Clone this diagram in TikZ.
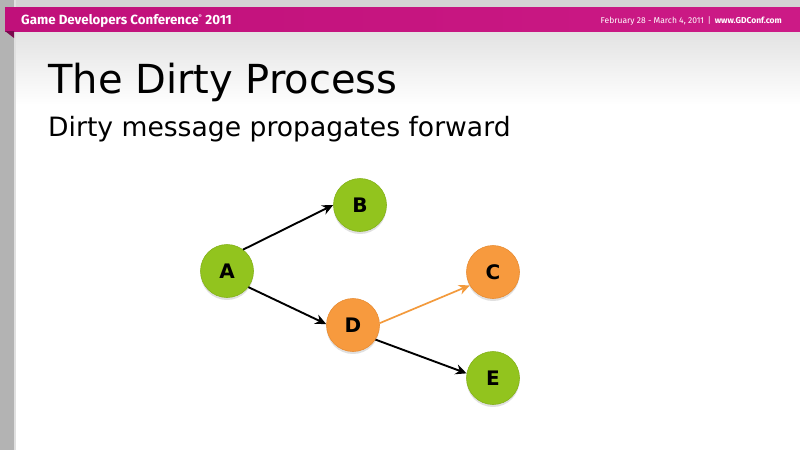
\documentclass[tikz,border=0pt]{standalone}
\usepackage{fontspec}
\setmainfont{DejaVu Sans}
\newfontfamily\gdcfont{Fira Sans}
\usetikzlibrary{arrows.meta}
\definecolor{gdcmag}{HTML}{C0107A}
\definecolor{gdcmagl}{HTML}{CC1A86}
\definecolor{gdcfold}{HTML}{7A0A4E}
\definecolor{nodegreen}{HTML}{92C41E}
\definecolor{nodegreenb}{HTML}{84B21A}
\definecolor{nodeorange}{HTML}{F79A3E}
\definecolor{nodeorangeb}{HTML}{E88C32}
\definecolor{arroworange}{HTML}{F39A3C}
\definecolor{stripgray}{HTML}{B3B3B3}
\tikzset{
  gnode/.style={circle, minimum size=53pt, inner sep=0pt, fill=nodegreen, draw=nodegreenb, line width=0.6pt, font=\bfseries\fontsize{20}{20}\selectfont},
  onode/.style={gnode, fill=nodeorange, draw=nodeorangeb},
  shadowc/.style={circle, minimum size=53pt, inner sep=0pt, fill=black, opacity=0.12},
  edge/.style={line width=1.9pt, black, -{Stealth[length=11pt,width=10pt]}},
  oedge/.style={edge, arroworange, line width=1.7pt},
}
\begin{document}
\begin{tikzpicture}[x=1pt,y=-1pt]
\useasboundingbox (0,0) rectangle (800,450);
% background
\fill[white] (0,0) rectangle (800,450);
\shade[top color=black!16, bottom color=white] (0,0) rectangle (800,105);
\fill[black!17] (0,0) rectangle (800,7);
% left strip
\fill[stripgray] (0,0) rectangle (14,450);
\fill[black!12] (14,0) rectangle (15.5,450);
% header band
\shade[left color=gdcmag, right color=gdcmagl] (5,7) rectangle (800,31);
\fill[gdcfold] (5,31) -- (14,31) -- (14,38) -- cycle;
\node[anchor=base west, inner sep=0pt, text=white, font=\gdcfont\bfseries\fontsize{13.3}{13.3}\selectfont] (hdrl) at (21,24) {Game Developers Conference\textsuperscript{\tiny\textregistered} 2011};
\node[anchor=base east, inner sep=0pt, text=white, font=\gdcfont\fontsize{8.5}{8.5}\selectfont] (hdrr) at (782,23.5) {February 28 - March 4, 2011 \,|\, \textbf{www.GDConf.com}};
% titles
\node[anchor=base west, inner sep=0pt, font=\fontsize{40}{40}\selectfont] (title) at (48,93) {The Dirty Process};
\node[anchor=base west, inner sep=0pt, font=\fontsize{26.6}{26.6}\selectfont] (sub) at (48,136) {Dirty message propagates forward};
% shadows
\foreach \p in {(227,273.5),(360,207.5),(493,274.5),(353,327.5),(493,380.5)}
  \node[shadowc] at \p {};
% nodes
\node[gnode] (A) at (227,271) {A};
\node[gnode] (B) at (360,205) {B};
\node[onode] (C) at (493,272) {C};
\node[onode] (D) at (353,325) {D};
\node[gnode] (E) at (493,378) {E};
% edges
\draw[edge] (A.53) -- (B.180);
\draw[edge] (A.-37) -- (D.178);
\draw[oedge] (D.4) -- (C.210);
\draw[edge] (D.-33) -- (E.170);
\end{tikzpicture}
\end{document}
